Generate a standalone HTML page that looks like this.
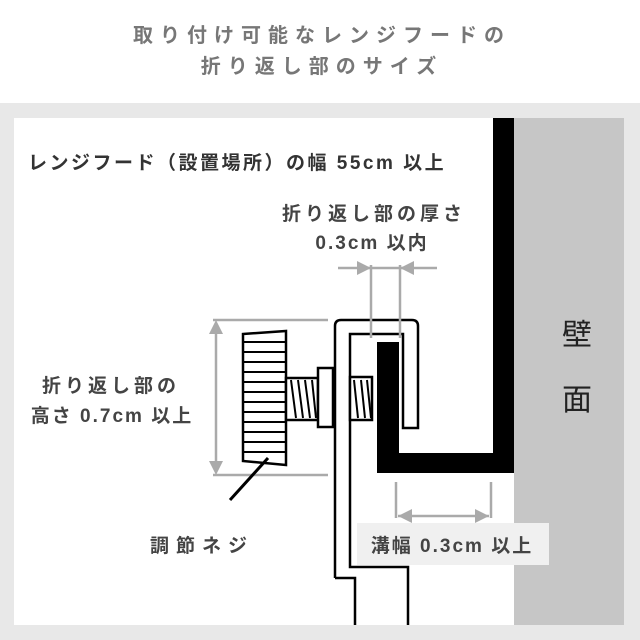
<!DOCTYPE html>
<html><head><meta charset="utf-8"><style>
html,body{margin:0;padding:0;background:#fff}
svg{display:block}
text{font-family:"Liberation Sans","Noto Sans CJK JP",sans-serif}
</style></head><body>
<svg width="640" height="640" viewBox="0 0 640 640" xmlns="http://www.w3.org/2000/svg">
<rect x="0" y="0" width="640" height="640" fill="#fff"/>
<text x="322" y="42" text-anchor="middle" font-size="20" fill="#777" font-weight="bold" letter-spacing="7">取り付け可能なレンジフードの</text>
<text x="322" y="73" text-anchor="middle" font-size="20" fill="#777" font-weight="bold" letter-spacing="7">折り返し部のサイズ</text>
<rect x="0" y="103" width="640" height="537" fill="#e8e8e8"/>
<rect x="14" y="118" width="500" height="507" fill="#fff"/>
<rect x="514" y="118" width="110" height="507" fill="#c6c6c6"/>
<path d="M493 118 H514 V473 H377 V342 H399 V453 H493 Z" fill="#000"/>
<path d="M335 578 V326 Q335 320 341 320 H412 Q418 320 418 326 V428 H403 V334 H350 V567 H408 V625" fill="none" stroke="#000" stroke-width="2.5"/>
<path d="M335 578 H355 V625" fill="none" stroke="#000" stroke-width="2.5"/>
<g stroke="#aaa" stroke-width="2.5" fill="none">
<path d="M213 320 H328 M213 475 H328 M216 326 V470"/>
<path d="M371 265 V338 M400 265 V338 M338 268 H437"/>
<path d="M396 482 V518 M491 482 V518 M398 516 H489"/>
</g>
<g fill="#aaa">
<path d="M216 320 l-7 14 h14 z M216 475 l-7 -14 h14 z"/>
<path d="M371 268 l-14 -7 v14 z M400 268 l14 -7 v14 z"/>
<path d="M398 516 l14 -7 v14 z M489 516 l-14 -7 v14 z"/>
</g>
<g stroke="#000" stroke-width="2.5" fill="#fff">
<path d="M243 334 L286 331 V465 L243 461 Z"/>
<path d="M286 378 H318 V420 H286 Z"/>
<rect x="318" y="368" width="15" height="59"/>
<rect x="350" y="377" width="22" height="43"/>
</g>
<g stroke="#000" stroke-width="2">
<path d="M243 342H286M243 352H286M243 362H286M243 372H286M243 382H286M243 392H286M243 402H286M243 412H286M243 422H286M243 432H286M243 442H286M243 452H286"/>
<path d="M291 380 L296 418 M298 380 L303 418 M305 380 L310 418 M312 380 L316 418 M354 380 L358 418 M361 380 L365 418 M367 380 L371 418"/>
<path d="M268 458 L230 500" stroke-width="3"/>
</g>
<g font-size="19" font-weight="bold" fill="#444">
<text x="28" y="169" fill="#333" letter-spacing="2.5">レンジフード（設置場所）の幅 55cm 以上</text>
<text x="374" y="220" text-anchor="middle" letter-spacing="4">折り返し部の厚さ</text>
<text x="372" y="249" text-anchor="middle" letter-spacing="2">0.3cm 以内</text>
<text x="111" y="392" text-anchor="middle" letter-spacing="4">折り返し部の</text>
<text x="112" y="422" text-anchor="middle" letter-spacing="2">高さ 0.7cm 以上</text>
<text x="150" y="552" letter-spacing="7">調節ネジ</text>
</g>
<rect x="357" y="523" width="192" height="42" fill="#f0f0f0"/>
<text x="452" y="552" text-anchor="middle" font-size="19" font-weight="bold" fill="#444" letter-spacing="2">溝幅 0.3cm 以上</text>
<text x="577" y="345" text-anchor="middle" font-size="30" fill="#222">壁</text>
<text x="577" y="410" text-anchor="middle" font-size="30" fill="#222">面</text>
</svg>
</body></html>
